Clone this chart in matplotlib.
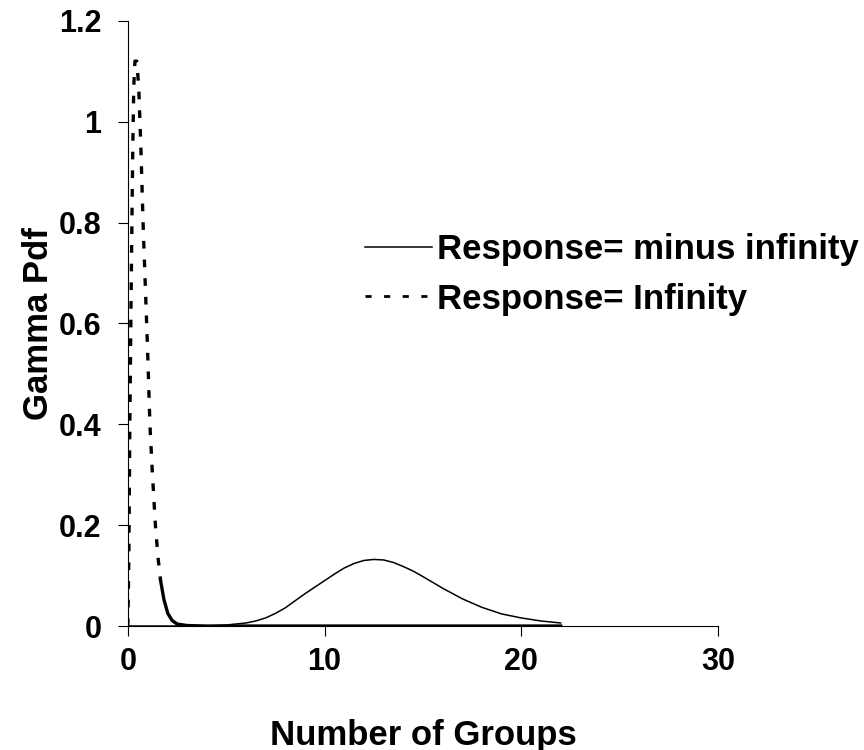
import matplotlib
matplotlib.use("Agg")
import matplotlib.pyplot as plt
from matplotlib.lines import Line2D

# Response = minus infinity (solid curve)
x_minus = [0, 2, 4, 5, 6, 6.5, 7, 7.5, 8, 8.5, 9, 9.5, 10, 10.5, 11, 11.5, 12, 12.5, 13, 13.5,
           14, 14.5, 15, 16, 17, 18, 19, 20, 21, 22]
y_minus = [0, 0, 0.000, 0.002, 0.006, 0.010, 0.016, 0.025, 0.036, 0.050, 0.064, 0.077, 0.090, 0.103,
           0.115, 0.124, 0.130, 0.132, 0.131, 0.126, 0.118, 0.109, 0.098, 0.075, 0.054, 0.037,
           0.024, 0.016, 0.010, 0.006]

# Response = Infinity (dashed curve)
x_inf = [0, 0.05, 0.1, 0.15, 0.2, 0.25, 0.3, 0.36, 0.45, 0.55, 0.66, 0.78, 0.9, 1.0, 1.12, 1.25,
         1.4, 1.53, 1.66, 1.83, 2.03, 2.25, 2.5, 3, 4, 22]
y_inf = [0, 0.14, 0.40, 0.60, 0.78, 0.95, 1.07, 1.12, 1.12, 1.07, 0.95, 0.79, 0.66, 0.55, 0.40, 0.30,
         0.20, 0.137, 0.091, 0.053, 0.025, 0.011, 0.004, 0.001, 0, 0]

labels = ["Response= minus infinity", "Response= Infinity"]
x_ticks = [0, 10, 20, 30]
y_ticks = [0, 0.2, 0.4, 0.6, 0.8, 1.0, 1.2]
y_ticklabels = ["0", "0.2", "0.4", "0.6", "0.8", "1", "1.2"]

plt.rcParams["font.family"] = ["Liberation Sans", "DejaVu Sans"]
plt.rcParams["font.weight"] = "bold"

fig = plt.figure(figsize=(8.64, 7.5), dpi=100)
ax = fig.add_axes([0.148, 0.1653, 0.683, 0.807])

dash = (0, (2.3, 3.3))
ax.plot(x_minus, y_minus, color="black", lw=1.1)
# dashes merge into a solid line once the curve flattens out
k = next(i for i, (x, y) in enumerate(zip(x_inf, y_inf)) if x > 0.5 and y < 0.1)
ax.plot(x_inf[:k + 1], y_inf[:k + 1], color="black", lw=2.4, ls=dash)
ax.plot(x_inf[k:], y_inf[k:], color="black", lw=2.4)

ax.set_xlim(0, 30)
ax.set_ylim(0, 1.2)
ax.set_xticks(x_ticks)
ax.set_yticks(y_ticks)
ax.set_yticklabels(y_ticklabels)
for s in ["top", "right"]:
    ax.spines[s].set_visible(False)
for s in ["left", "bottom"]:
    ax.spines[s].set_linewidth(0.8)
ax.tick_params(direction="out", length=7, width=0.8, labelsize=22)
ax.tick_params(axis="x", pad=8)
ax.tick_params(axis="y", pad=12)
for t in ax.get_xticklabels() + ax.get_yticklabels():
    t.set_fontweight("bold")
ax.set_xlabel("Number of Groups", fontsize=25, fontweight="bold", labelpad=30)
ax.set_ylabel("Gamma Pdf", fontsize=25, fontweight="bold", labelpad=3)

handles = [Line2D([], [], color="black", lw=1.1),
           Line2D([], [], color="black", lw=2, ls=(0, (2.2, 4.5)))]
fig.legend(handles, labels, loc="upper left", bbox_to_anchor=(0.4225, 0.689),
           frameon=False, prop={"size": 25, "weight": "bold"}, borderaxespad=0,
           handlelength=1.93, handletextpad=0.15, labelspacing=0.47, borderpad=0)

fig.savefig("out.png", dpi=100)
